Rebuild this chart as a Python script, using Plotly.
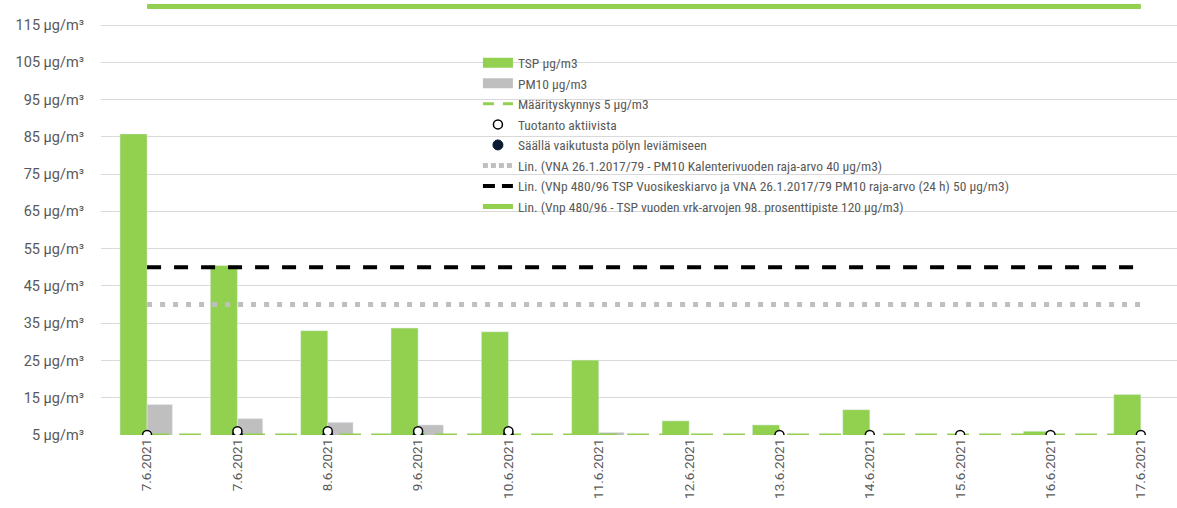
import plotly.graph_objects as go

dates = ["7.6.2021", "7.6.2021", "8.6.2021", "9.6.2021", "10.6.2021", "11.6.2021",
         "12.6.2021", "13.6.2021", "14.6.2021", "15.6.2021", "16.6.2021", "17.6.2021"]
tsp = [85.8, 50.5, 33.0, 33.7, 32.7, 25.1, 8.8, 7.7, 11.8, 4.5, 6.0, 15.9]
pm10 = [13.2, 9.4, 8.4, 7.7, 4.5, 5.7, 4.5, 4.5, 4.5, 4.5, 4.5, 4.5]
threshold = [5, 5, 5, 5, 5, 5, 5, 5, 5, 5, 5, 5]
production = [5, 6, 6, 6, 6, None, None, 5, 5, 5, 5, 5]
weather = [None, 5, 5, 5, 5, None, None, None, None, None, None, None]
pm10_year_limit = [40, 40, 40, 40, 40, 40, 40, 40, 40, 40, 40, 40]
tsp_limit = [50, 50, 50, 50, 50, 50, 50, 50, 50, 50, 50, 50]
tsp_p98 = [120, 120, 120, 120, 120, 120, 120, 120, 120, 120, 120, 120]
ytick_vals = [5, 15, 25, 35, 45, 55, 65, 75, 85, 95, 105, 115]
ytick_text = [f"{v} µg/m³" for v in ytick_vals]

x = list(range(len(dates)))
GREEN = "#92d050"
GREY = "#bfbfbf"
TXT = "#595959"


def legend_swatch(name, group, rank, **line):
    return go.Scatter(x=[None], y=[None], mode="lines", name=name, legendgroup=group,
                      line=line, legendrank=rank)


fig = go.Figure()
fig.add_trace(go.Bar(x=x, y=tsp, name="TSP µg/m3", marker_color=GREEN,
                     width=0.3, offset=-0.3, showlegend=False, legendgroup="tsp"))
fig.add_trace(go.Bar(x=x, y=pm10, name="PM10 µg/m3", marker_color=GREY,
                     width=0.28, offset=0.0, showlegend=False, legendgroup="pm10"))
fig.add_trace(legend_swatch("TSP µg/m3", "tsp", 1, color=GREEN, width=13))
fig.add_trace(legend_swatch("PM10 µg/m3", "pm10", 2, color=GREY, width=13))

name40 = "Lin. (VNA 26.1.2017/79 - PM10 Kalenterivuoden raja-arvo 40 µg/m3)"
name50 = "Lin. (VNp 480/96 TSP Vuosikeskiarvo ja VNA 26.1.2017/79 PM10 raja-arvo (24 h) 50 µg/m3)"
name120 = "Lin. (Vnp 480/96 - TSP vuoden vrk-arvojen 98. prosenttipiste 120 µg/m3)"
fig.add_trace(go.Scatter(x=x, y=pm10_year_limit, mode="lines", name=name40, showlegend=False,
                         legendgroup="l40", line=dict(color=GREY, width=5, dash="5px,8px")))
fig.add_trace(legend_swatch(name40, "l40", 6, color=GREY, width=5, dash="5px,3px"))
fig.add_trace(go.Scatter(x=x, y=tsp_limit, mode="lines", name=name50, showlegend=False,
                         legendgroup="l50", line=dict(color="#000000", width=4, dash="14px,13px")))
fig.add_trace(legend_swatch(name50, "l50", 7, color="#000000", width=4, dash="12px,7px"))
fig.add_trace(go.Scatter(x=x, y=tsp_p98, mode="lines", name=name120,
                         line=dict(color=GREEN, width=5), legendrank=8))
fig.add_trace(go.Scatter(x=x, y=threshold, mode="lines", name="Määrityskynnys 5 µg/m3",
                         line=dict(color=GREEN, width=3, dash="22px,10px"),
                         showlegend=False, legendgroup="thr"))
fig.add_trace(legend_swatch("Määrityskynnys 5 µg/m3", "thr", 3, color=GREEN, width=3,
                            dash="11px,9px"))
fig.add_trace(go.Scatter(x=x, y=weather, mode="markers", name="Säällä vaikutusta pölyn leviämiseen",
                         marker=dict(symbol="circle", size=10, color="#0a1a33",
                                     line=dict(color="#0a1a33", width=1)), legendrank=5))
fig.add_trace(go.Scatter(x=x, y=production, mode="markers", name="Tuotanto aktiivista",
                         marker=dict(symbol="circle", size=9, color="#ffffff",
                                     line=dict(color="#000000", width=1.5)), legendrank=4))

fig.update_layout(
    width=1177, height=508,
    margin=dict(l=101, r=0, t=2, b=73),
    paper_bgcolor="white", plot_bgcolor="white",
    barmode="overlay",
    showlegend=True,
    legend=dict(x=0.3503, y=0.895, xanchor="left", yanchor="top",
                bgcolor="rgba(0,0,0,0)", tracegroupgap=0,
                font=dict(family="Liberation Sans Narrow, Roboto Condensed, Roboto, sans-serif",
                          size=13.5, color=TXT)),
    xaxis=dict(range=[-0.51, 11.4], tickmode="array", tickvals=x, ticktext=dates,
               tickangle=-90, showgrid=False, zeroline=False, showline=False, ticks="",
               automargin=False,
               tickfont=dict(family="Roboto, sans-serif", size=13.5, color=TXT)),
    yaxis=dict(range=[5, 121.2], tickmode="array", tickvals=ytick_vals, ticktext=ytick_text,
               showgrid=True, gridcolor="#d9d9d9", gridwidth=1, zeroline=False, showline=False,
               ticks="", ticklabelstandoff=16, automargin=False,
               tickfont=dict(family="Roboto, sans-serif", size=14.5, color=TXT)),
)
fig.write_html("out.html", config={"displayModeBar": False},
               post_script="document.body.style.margin='0';")
